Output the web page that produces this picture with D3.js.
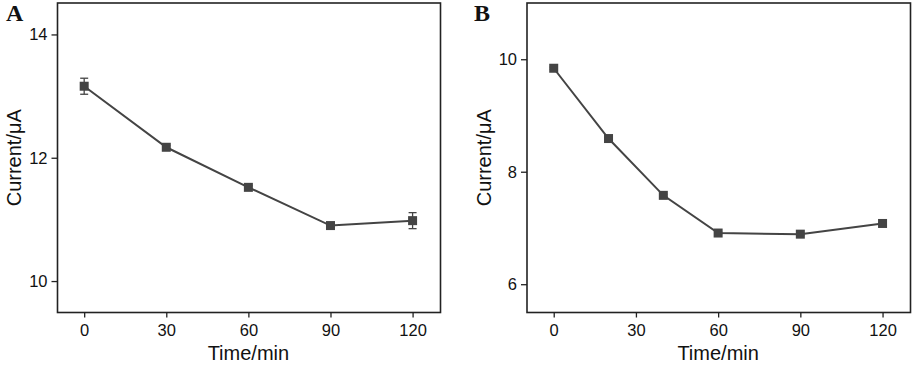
<!DOCTYPE html>
<html><head><meta charset="utf-8">
<script src="https://cdn.jsdelivr.net/npm/d3@7"></script>
<style>body{margin:0;background:#fff}svg{display:block}</style>
</head><body>
<script>
// Panel A data
const timeA = [0, 30, 60, 90, 120];
const currentA = [13.16, 12.17, 11.52, 10.90, 10.98];
const errA = [0.13, 0.03, 0.03, 0.03, 0.13];
const yTicksA = [10, 12, 14];
// Panel B data
const timeB = [0, 20, 40, 60, 90, 120];
const currentB = [9.84, 8.59, 7.58, 6.91, 6.89, 7.08];
const errB = [0.02, 0.02, 0.02, 0.02, 0.02, 0.02];
const yTicksB = [6, 8, 10];
const xTicks = [0, 30, 60, 90, 120];

const W = 913, H = 367;
const svg = d3.select("body").append("svg").attr("width", W).attr("height", H);
const col = "#444";
const font = "Liberation Sans, Arial, sans-serif";

function panel(o) {
  const x = d3.scaleLinear().domain([-9.75, 130.2]).range([o.left, o.right]);
  const y = d3.scaleLinear().domain(o.ydom).range([o.bottom, o.top]);
  const g = svg.append("g");
  // frame
  g.append("rect").attr("x", o.left).attr("y", o.top)
    .attr("width", o.right - o.left).attr("height", o.bottom - o.top)
    .attr("fill", "none").attr("stroke", "#222").attr("stroke-width", 1.6);
  const xa = g.append("g").attr("transform", `translate(0,${o.bottom})`)
    .call(d3.axisBottom(x).tickValues(xTicks).tickSize(5).tickPadding(7).tickFormat(d3.format("d")));
  const ya = g.append("g").attr("transform", `translate(${o.left},0)`)
    .call(d3.axisLeft(y).tickValues(o.yticks).tickSize(6).tickPadding(4).tickFormat(d3.format("d")));
  [xa, ya].forEach(a => {
    a.select(".domain").remove();
    a.selectAll("line").attr("stroke", "#222").attr("stroke-width", 1.3);
    a.selectAll("text").attr("font-family", font).attr("font-size", 16.5).attr("fill", "#111");
  });
  // axis titles
  g.append("text").attr("x", (x(0) + x(120)) / 2).attr("y", 360)
    .attr("text-anchor", "middle").attr("font-family", font).attr("font-size", 20).attr("fill", "#111")
    .text("Time/min");
  g.append("text").attr("transform", `translate(${o.ytitleX},${(o.top + o.bottom) / 2}) rotate(-90)`)
    .attr("text-anchor", "middle").attr("font-family", font).attr("font-size", 20).attr("fill", "#111")
    .text("Current/μA");
  // panel letter
  g.append("text").attr("x", o.letterX).attr("y", 21)
    .attr("font-family", "Liberation Serif, Times New Roman, serif").attr("font-weight", "bold")
    .attr("font-size", 24).attr("fill", "#111").text(o.letter);
  const data = o.t.map((t, i) => ({t, v: o.v[i], e: o.e[i]}));
  // line
  g.append("path").datum(data)
    .attr("d", d3.line().x(d => x(d.t)).y(d => y(d.v)))
    .attr("fill", "none").attr("stroke", col).attr("stroke-width", 2);
  // error bars
  const eb = g.selectAll(".eb").data(data).enter().append("g");
  eb.append("line").attr("x1", d => x(d.t)).attr("x2", d => x(d.t))
    .attr("y1", d => y(d.v + d.e)).attr("y2", d => y(d.v - d.e))
    .attr("stroke", col).attr("stroke-width", 1.3);
  [1, -1].forEach(s => {
    eb.append("line").attr("x1", d => x(d.t) - 4).attr("x2", d => x(d.t) + 4)
      .attr("y1", d => y(d.v + s * d.e)).attr("y2", d => y(d.v + s * d.e))
      .attr("stroke", col).attr("stroke-width", 1.3);
  });
  // markers
  g.selectAll(".m").data(data).enter().append("rect")
    .attr("x", d => x(d.t) - 4.5).attr("y", d => y(d.v) - 4.5)
    .attr("width", 9).attr("height", 9).attr("fill", col);
}

panel({left: 57.5, right: 440.5, top: 3, bottom: 312.5, ydom: [9.49, 14.51], yticks: yTicksA,
  t: timeA, v: currentA, e: errA, letter: "A", letterX: 6, ytitleX: 21});
panel({left: 527, right: 910.5, top: 3, bottom: 312.5, ydom: [5.497, 11.0], yticks: yTicksB,
  t: timeB, v: currentB, e: errB, letter: "B", letterX: 474, ytitleX: 491});
</script>
</body></html>
